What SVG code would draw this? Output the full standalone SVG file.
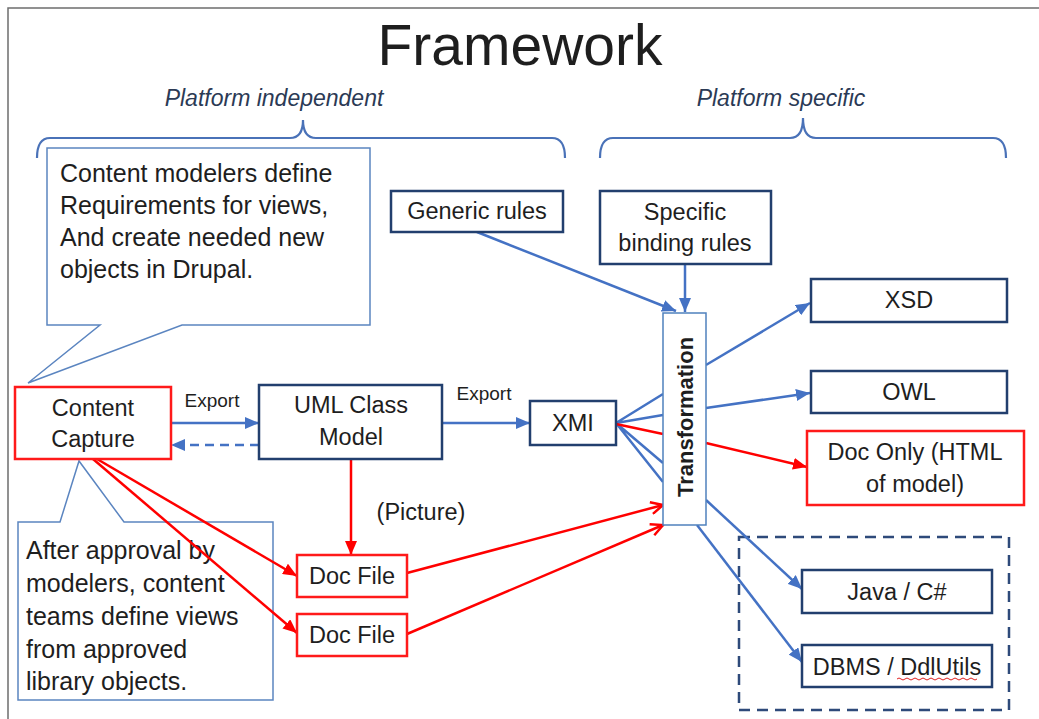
<svg xmlns="http://www.w3.org/2000/svg" width="1039" height="719" viewBox="0 0 1039 719">
<style>
  .t{font-family:"Liberation Sans",Arial,sans-serif;fill:#1e1e1e}
  .lbl{font-size:23.5px;text-anchor:middle}
  .call{font-size:25px}
  .plat{font-family:"Liberation Sans",Arial,sans-serif;font-style:italic;font-size:23px;fill:#2b3a55;text-anchor:middle}
  .brace{fill:none;stroke:#4a72b8;stroke-width:2.2}
  .callout{fill:#fff;stroke:#5b85c0;stroke-width:1.5}
  .nbox{fill:#fff;stroke:#223f6e;stroke-width:2.5}
  .rbox{fill:#fff;stroke:#ff1a1a;stroke-width:2.5}
  .blue{fill:none;stroke:#4472c4;stroke-width:2.5}
  .red{fill:none;stroke:#ff0000;stroke-width:2.5}
</style>
<defs>
  <marker id="ab" markerUnits="userSpaceOnUse" markerWidth="14" markerHeight="12" refX="14" refY="6" orient="auto">
    <path d="M0,0 L14,6 L0,12 Z" fill="#4472c4"/>
  </marker>
  <marker id="ar" markerUnits="userSpaceOnUse" markerWidth="14" markerHeight="12" refX="14" refY="6" orient="auto">
    <path d="M0,0 L14,6 L0,12 Z" fill="#ff0000"/>
  </marker>
  <marker id="av" markerUnits="userSpaceOnUse" markerWidth="16" markerHeight="14" refX="14" refY="7" orient="auto">
    <path d="M2,1 L14,7 L2,13" fill="none" stroke="#ff0000" stroke-width="2.5"/>
  </marker>
</defs>
<rect x="0" y="0" width="1039" height="719" fill="#fff"/>
<path d="M8,719 V8 H1039" fill="none" stroke="#6e6e6e" stroke-width="1.5"/>

<g id="title">
  <text class="t" x="520" y="65" font-size="57" text-anchor="middle">Framework</text>
</g>
<g id="platform-independent">
  <text class="plat" x="274" y="106">Platform independent</text>
  <path class="brace" d="M37,158 Q37,138 50,138 H290 Q303,138 303,120 Q303,138 316,138 H552 Q565,138 565,158"/>
</g>
<g id="platform-specific">
  <text class="plat" x="781" y="106">Platform specific</text>
  <path class="brace" d="M600,158 Q600,138 613,138 H790 Q803,138 803,118 Q803,138 816,138 H993 Q1006,138 1006,158"/>
</g>

<g id="callout-modelers">
  <path class="callout" d="M47,148 H370 V325 H182 L28,383 L100,325 H47 Z"/>
  <text class="t call" x="60" y="182">Content modelers define</text>
  <text class="t call" x="60" y="214">Requirements for views,</text>
  <text class="t call" x="60" y="246">And create needed new</text>
  <text class="t call" x="60" y="278">objects in Drupal.</text>
</g>
<g id="callout-teams">
  <path class="callout" d="M18,522 H60 L79,461 L124,522 H273 V700 H18 Z"/>
  <text class="t call" x="26" y="559">After approval by</text>
  <text class="t call" x="26" y="592">modelers, content</text>
  <text class="t call" x="26" y="625">teams define views</text>
  <text class="t call" x="26" y="658">from approved</text>
  <text class="t call" x="26" y="690">library objects.</text>
</g>

<g id="group-dashed">
  <rect x="739" y="537" width="270" height="173" fill="none" stroke="#2e4a7a" stroke-width="2.5" stroke-dasharray="11 7"/>
</g>

<g id="connectors">
  <path class="blue" d="M477,232 L676,311" marker-end="url(#ab)"/>
  <path class="blue" d="M685,264 L685,312" marker-end="url(#ab)"/>
  <path class="blue" d="M171,423 L259,423" marker-end="url(#ab)"/>
  <path class="blue" d="M259,445 L171,445" stroke-dasharray="9 6" marker-end="url(#ab)"/>
  <path class="blue" d="M442,423 L530,423" marker-end="url(#ab)"/>
  <path class="blue" stroke-width="2" d="M616,423 L663,394 M616,423 L663,415 M616,423 L663,463 M616,423 L663,482"/>
  <path class="red" stroke-width="2" d="M616,424 L663,434"/>
  <path class="blue" d="M706,365 L810,303" marker-end="url(#ab)"/>
  <path class="blue" d="M706,408 L810,393" marker-end="url(#ab)"/>
  <path class="red" d="M706,443 L807,467" marker-end="url(#ar)"/>
  <path class="blue" d="M706,500 L802,589" marker-end="url(#ab)"/>
  <path class="blue" d="M697,525 L802,662" marker-end="url(#ab)"/>
  <path class="red" d="M351,459 L351,555" marker-end="url(#ar)"/>
  <path class="red" d="M97,459 L297,576" marker-end="url(#ar)"/>
  <path class="red" d="M93,459 L297,633" marker-end="url(#ar)"/>
  <path class="red" d="M407,573 L663,505" marker-end="url(#av)"/>
  <path class="red" d="M407,634 L663,525" marker-end="url(#av)"/>
  <text class="t" x="212" y="407" font-size="19" text-anchor="middle">Export</text>
  <text class="t" x="484" y="400" font-size="19" text-anchor="middle">Export</text>
  <text class="t lbl" x="421" y="520">(Picture)</text>
</g>

<g id="content-capture">
  <rect class="rbox" x="15" y="387" width="156" height="72"/>
  <text class="t lbl" x="93" y="416">Content</text>
  <text class="t lbl" x="93" y="447">Capture</text>
</g>
<g id="uml-class-model">
  <rect class="nbox" x="259" y="385" width="183" height="74"/>
  <text class="t lbl" x="351" y="413">UML Class</text>
  <text class="t lbl" x="351" y="445">Model</text>
</g>
<g id="xmi">
  <rect class="nbox" x="530" y="401" width="86" height="44"/>
  <text class="t lbl" x="573" y="431">XMI</text>
</g>
<g id="generic-rules">
  <rect class="nbox" x="391" y="191" width="172" height="41"/>
  <text class="t lbl" x="477" y="219">Generic rules</text>
</g>
<g id="specific-binding-rules">
  <rect class="nbox" x="600" y="191" width="171" height="73"/>
  <text class="t lbl" x="685" y="220">Specific</text>
  <text class="t lbl" x="685" y="251">binding rules</text>
</g>
<g id="transformation">
  <rect x="663" y="313" width="43" height="212" fill="#fff" stroke="#4f81bd" stroke-width="1.5"/>
  <text class="t" x="0" y="0" font-size="22" font-weight="bold" text-anchor="middle" transform="translate(693,417) rotate(-90)">Transformation</text>
</g>
<g id="xsd">
  <rect class="nbox" x="811" y="279" width="196" height="43"/>
  <text class="t lbl" x="909" y="308">XSD</text>
</g>
<g id="owl">
  <rect class="nbox" x="811" y="371" width="196" height="42"/>
  <text class="t lbl" x="909" y="400">OWL</text>
</g>
<g id="doc-only">
  <rect class="rbox" x="807" y="431" width="217" height="74"/>
  <text class="t lbl" x="915" y="460">Doc Only (HTML</text>
  <text class="t lbl" x="915" y="492">of model)</text>
</g>
<g id="java-csharp">
  <rect class="nbox" x="802" y="570" width="190" height="43"/>
  <text class="t lbl" x="897" y="600">Java / C#</text>
</g>
<g id="dbms-ddlutils">
  <rect class="nbox" x="802" y="645" width="190" height="42"/>
  <text class="t lbl" x="897" y="675">DBMS / DdlUtils</text>
  <path d="M897,679 q2,-2 4,0 t4,0 t4,0 t4,0 t4,0 t4,0 t4,0 t4,0 t4,0 t4,0 t4,0 t4,0 t4,0 t4,0 t4,0 t4,0 t4,0 t4,0 t4,0 t4,0" fill="none" stroke="#e02020" stroke-width="1"/>
</g>
<g id="doc-file-1">
  <rect class="rbox" x="297" y="555" width="110" height="42"/>
  <text class="t lbl" x="352" y="584">Doc File</text>
</g>
<g id="doc-file-2">
  <rect class="rbox" x="297" y="614" width="110" height="42"/>
  <text class="t lbl" x="352" y="643">Doc File</text>
</g>
</svg>
